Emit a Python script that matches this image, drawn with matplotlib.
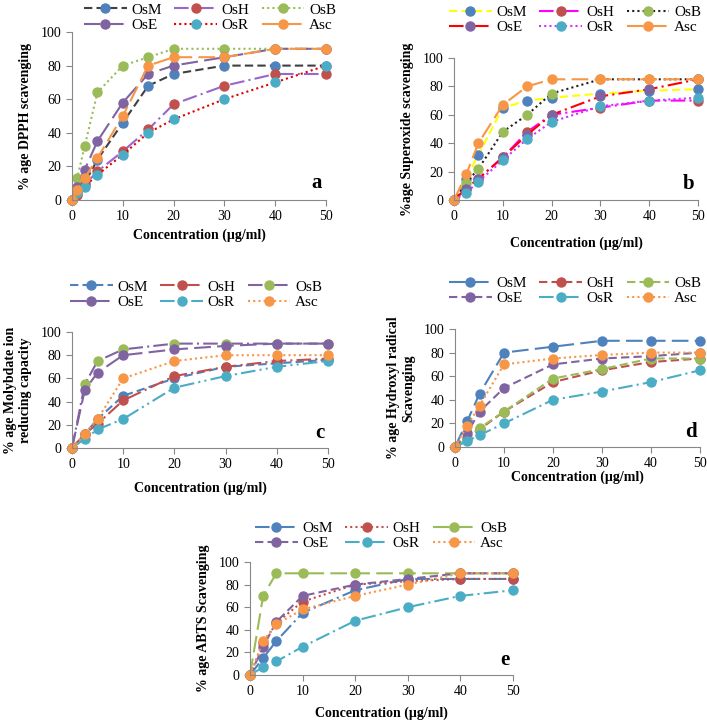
import matplotlib
matplotlib.use("Agg")
import matplotlib.pyplot as plt

plt.rcParams['font.family'] = ['Liberation Serif', 'DejaVu Serif']

series_names = ["OsM", "OsH", "OsB", "OsE", "OsR", "Asc"]
marker_colors = ["#4F81BD", "#C0504D", "#9BBB59", "#8064A2", "#4BACC6", "#F79646"]

# Panel a: DPPH
conc_a = [0, 1, 2.5, 5, 10, 15, 20, 30, 40, 50]
a_OsM = [0, 5, 10, 24, 46, 68, 75, 80, 80, 80]
a_OsH = [0, 3, 9, 17, 29, 42, 57, 68, 75, 75]
a_OsB = [0, 13, 32, 64, 80, 85, 90, 90, 90, 90]
a_OsE = [0, 8, 18, 35, 58, 75, 80, 85, 90, 90]
a_OsR = [0, 4, 8, 15, 27, 40, 48, 60, 70, 80]
a_Asc = [0, 6, 13, 25, 50, 80, 85, 85, 90, 90]

# Panel b: Superoxide
conc_b = [0, 2.5, 5, 10, 15, 20, 30, 40, 50]
b_OsM = [0, 15, 32, 65, 70, 72, 75, 77, 78]
b_OsH = [0, 8, 15, 30, 48, 60, 65, 70, 70]
b_OsB = [0, 12, 22, 48, 60, 75, 85, 85, 85]
b_OsE = [0, 8, 15, 30, 46, 60, 73, 78, 85]
b_OsR = [0, 5, 13, 28, 43, 55, 66, 70, 72]
b_Asc = [0, 18, 40, 67, 80, 85, 85, 85, 85]

# Panel c: Molybdate
conc_c = [0, 2.5, 5, 10, 20, 30, 40, 50]
c_OsM = [0, 12, 25, 45, 60, 70, 73, 76]
c_OsH = [0, 12, 21, 41, 62, 70, 75, 77]
c_OsB = [0, 55, 75, 85, 90, 90, 90, 90]
c_OsE = [0, 50, 65, 80, 85, 88, 90, 90]
c_OsR = [0, 8, 16, 25, 52, 62, 70, 75]
c_Asc = [0, 12, 25, 60, 75, 80, 80, 80]

# Panel d: Hydroxyl
conc_d = [0, 2.5, 5, 10, 20, 30, 40, 50]
d_OsM = [0, 22, 45, 80, 85, 90, 90, 90]
d_OsH = [0, 7, 15, 30, 55, 65, 72, 75]
d_OsB = [0, 8, 16, 30, 58, 66, 75, 75]
d_OsE = [0, 12, 30, 50, 70, 75, 77, 80]
d_OsR = [0, 5, 10, 20, 40, 47, 55, 65]
d_Asc = [0, 18, 35, 70, 75, 78, 80, 80]

# Panel e: ABTS
conc_e = [0, 2.5, 5, 10, 20, 30, 40, 50]
e_OsM = [0, 15, 30, 55, 75, 85, 85, 85]
e_OsH = [0, 28, 46, 65, 80, 83, 85, 85]
e_OsB = [0, 70, 90, 90, 90, 90, 90, 90]
e_OsE = [0, 25, 47, 70, 80, 85, 90, 90]
e_OsR = [0, 7, 12, 25, 48, 60, 70, 75]
e_Asc = [0, 30, 45, 58, 70, 80, 90, 90]

xticks = [0, 10, 20, 30, 40, 50]
yticks = [0, 20, 40, 60, 80, 100]

LD = (0, (8, 3))        # long dash
SD = (0, (4, 2))        # short dash
DOT = (0, (1, 1.5))
DD = (0, (7, 2, 1, 2))  # dash-dot
DDD = (0, (7, 2, 1, 2, 1, 2))

W, H = 707.0, 722.0


def rect(l, r, t, b):
    return [l / W, 1 - b / H, (r - l) / W, (b - t) / H]


panels = [
    dict(rect=rect(72, 326, 32, 200), x=conc_a,
         ys=[a_OsM, a_OsH, a_OsB, a_OsE, a_OsR, a_Asc],
         lcols=["#404040", "#9966CC", "#9BBB59", "#8064A2", "#E00000", "#F79646"],
         ls=[SD, DD, DOT, LD, DOT, LD],
         ylabel="% age DPPH scavenging", letter="a",
         leg=(210, 17.5), xlab_y=235),
    dict(rect=rect(454, 698, 58, 200), x=conc_b,
         ys=[b_OsM, b_OsH, b_OsB, b_OsE, b_OsR, b_Asc],
         lcols=["#FFFF00", "#FF00FF", "#202020", "#FF0000", "#CC33FF", "#F79646"],
         ls=[SD, DD, DOT, DD, DOT, LD],
         ylabel="%age Superoxide scavenging", letter="b",
         leg=(575, 20), xlab_y=243),
    dict(rect=rect(72, 328, 332, 448), x=conc_c,
         ys=[c_OsM, c_OsH, c_OsB, c_OsE, c_OsR, c_Asc],
         lcols=["#4F81BD", "#C0504D", "#8064A2", "#8064A2", "#4BACC6", "#F79646"],
         ls=[SD, DD, DD, LD, DDD, DOT],
         ylabel="% age Molybdate ion\nreducing capacity", letter="c",
         leg=(196, 294.5), xlab_y=488),
    dict(rect=rect(455, 700, 329, 447), x=conc_d,
         ys=[d_OsM, d_OsH, d_OsB, d_OsE, d_OsR, d_Asc],
         lcols=["#4F81BD", "#C0504D", "#9BBB59", "#8064A2", "#4BACC6", "#F79646"],
         ls=[LD, SD, SD, SD, DD, DOT],
         ylabel="% age Hydroxyl radical\nScavenging", letter="d",
         leg=(575, 291), xlab_y=477),
    dict(rect=rect(250, 513, 562, 675), x=conc_e,
         ys=[e_OsM, e_OsH, e_OsB, e_OsE, e_OsR, e_Asc],
         lcols=["#4F81BD", "#C0504D", "#9BBB59", "#8064A2", "#4BACC6", "#F79646"],
         ls=[DD, DOT, LD, SD, DD, DOT],
         ylabel="% age ABTS Scavenging", letter="e",
         leg=(381, 536), xlab_y=713),
]

fig = plt.figure(figsize=(7.07, 7.22), dpi=100)

for p in panels:
    ax = fig.add_axes(p["rect"])
    handles = []
    for name, y, lc, mc, ls in zip(series_names, p["ys"], p["lcols"], marker_colors, p["ls"]):
        h, = ax.plot(p["x"], y, color=lc, linestyle=ls, linewidth=1.5,
                     marker="o", markersize=6.5, markerfacecolor=mc,
                     markeredgecolor=mc, label=name, clip_on=False)
        handles.append(h)
    ax.set_xlim(0, 50)
    ax.set_ylim(0, 100)
    ax.set_xticks(xticks)
    ax.set_yticks(yticks)
    ax.tick_params(labelsize=10, color="#888888", length=4, direction="out")
    for s in ["top", "right"]:
        ax.spines[s].set_visible(False)
    for s in ["left", "bottom"]:
        ax.spines[s].set_color("#888888")
    ax.set_ylabel(p["ylabel"], fontsize=10, fontweight="bold", labelpad=6)
    x0 = p["rect"][0] + p["rect"][2] / 2
    fig.text(x0, 1 - p["xlab_y"] / H, "Concentration (µg/ml)", fontsize=10,
             fontweight="bold", ha="center", va="center")
    ax.text(0.985, 0.04, p["letter"], transform=ax.transAxes, fontsize=15,
            fontweight="bold", ha="right", va="bottom")
    # row-major order for a 2x3 legend (matplotlib fills column-first)
    order = [0, 3, 1, 4, 2, 5]
    cx, cy = p["leg"]
    ax.legend(handles=[handles[i] for i in order], loc="center",
              bbox_to_anchor=(cx / W, 1 - cy / H),
              bbox_transform=fig.transFigure, ncol=3, frameon=False,
              fontsize=11, handlelength=2.8, columnspacing=0.8,
              handletextpad=0.3, labelspacing=0.1, borderpad=0)

fig.savefig("out.png", dpi=100)
